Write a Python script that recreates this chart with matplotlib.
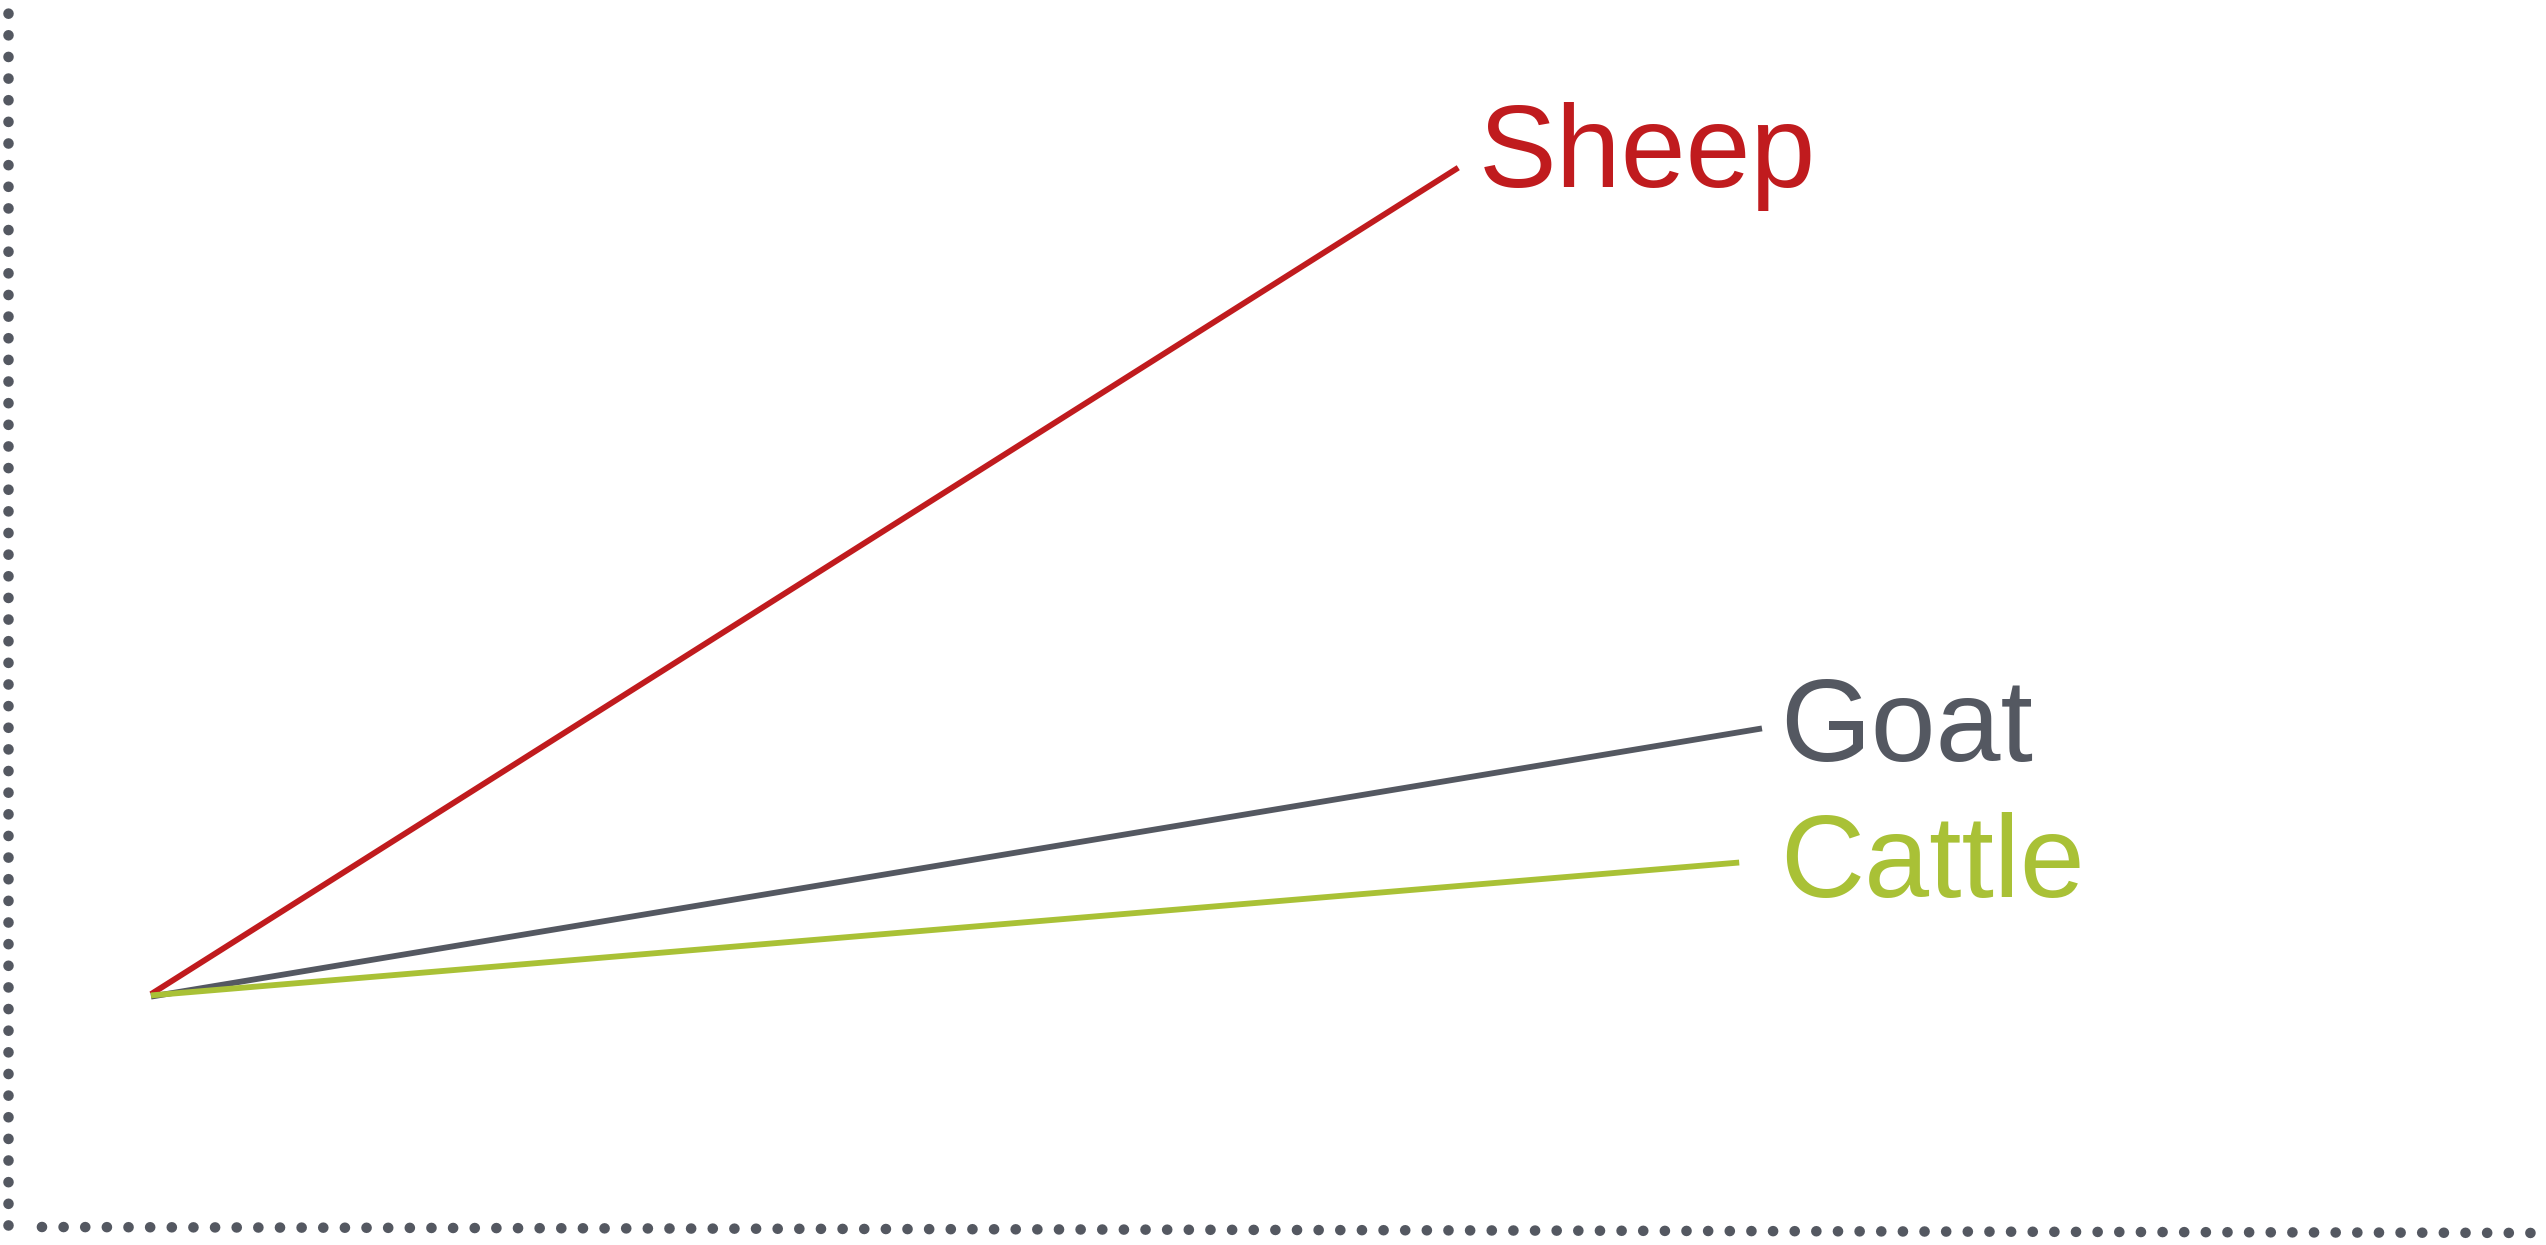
import matplotlib
matplotlib.use("Agg")
import matplotlib.pyplot as plt

# data (axis units 0-100)
animals = ["Sheep", "Goat", "Cattle"]
x_start = [5.65, 5.65, 5.65]
y_start = [19.1, 18.9, 19.0]
x_end = [57.3, 69.3, 68.4]
y_end = [86.9, 40.9, 29.9]
label_x = [58.1, 70.0, 70.0]
label_y = [85.3, 38.2, 27.1]
colors = ["#C01B1E", "#545861", "#A9C136"]

W, H = 2546, 1245
fig = plt.figure(figsize=(W / 100, H / 100), dpi=100)
ax = fig.add_axes([8 / W, (H - 1227) / H, (2539 - 8) / W, (1227 - 8) / H])
ax.set_xlim(0, 100)
ax.set_ylim(0, 100)
ax.axis("off")

# dotted axes
dot = dict(color="#545861", lw=7.6, linestyle=(0, (0.01, 2.04)),
           dash_capstyle="round", transform=ax.transAxes, clip_on=False)
ax.plot([0, 0], [0.0015, 1], **dot)
ax.plot([0.0134, 1.0], [0, -0.0049], **dot)

for i, name in enumerate(animals):
    ax.plot([x_start[i], x_end[i]], [y_start[i], y_end[i]],
            color=colors[i], lw=4.2, solid_capstyle="butt")
    ax.text(label_x[i], label_y[i], name, color=colors[i],
            fontsize=84, family="Liberation Sans", ha="left", va="baseline")

fig.savefig("out.png", dpi=100)
